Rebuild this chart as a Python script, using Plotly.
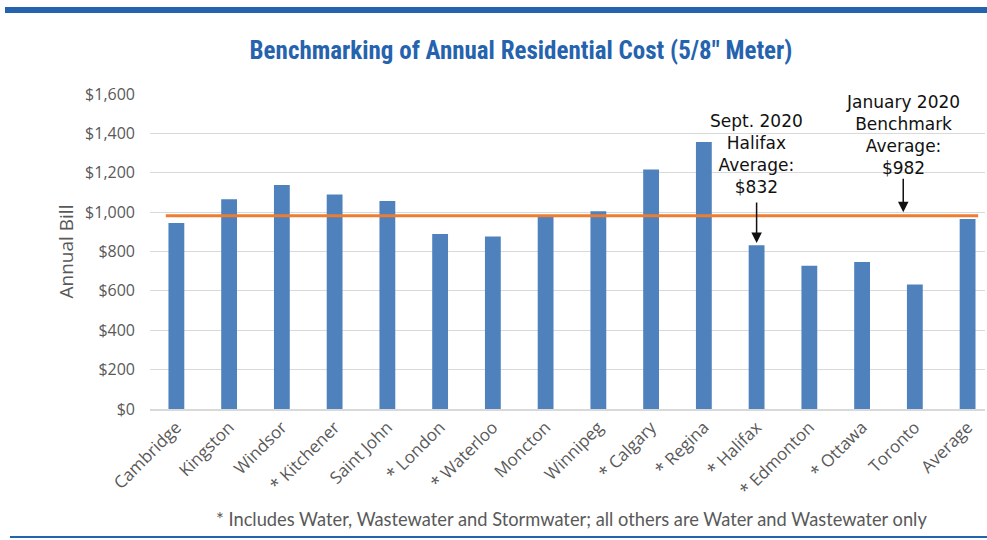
import plotly.graph_objects as go

categories = ["Cambridge", "Kingston", "Windsor", "* Kitchener", "Saint John", "* London",
              "* Waterloo", "Moncton", "Winnipeg", "* Calgary", "* Regina", "* Halifax",
              "* Edmonton", "* Ottawa", "Toronto", "Average"]
annual_bill = [945, 1065, 1138, 1090, 1056, 889, 876, 985, 1004, 1216, 1356, 832, 727, 747, 632, 965]
benchmark_avg = 982
halifax_avg = 832
y_ticks = [0, 200, 400, 600, 800, 1000, 1200, 1400, 1600]
y_tick_text = ["$0", "$200", "$400", "$600", "$800", "$1,000", "$1,200", "$1,400", "$1,600"]

BAR = "#4f81bd"
ORANGE = "#ed7d31"
BLUE = "#2563ae"
GRAY = "#595959"

# plot area in pixels: x 150..985, y 94..409
PL, PR, PT, PB = 150, 985, 94, 409
PW, PH = PR - PL, PB - PT


def px_x(px):
    return (px - PL) / PW


def px_y(py):
    return (PB - py) / PH


fig = go.Figure()
fig.add_trace(go.Bar(x=categories, y=annual_bill, marker_color=BAR, marker_line_width=0,
                     showlegend=False))

# benchmark line
fig.add_shape(type="line", xref="x", yref="y", x0=-0.2, x1=15.2,
              y0=benchmark_avg, y1=benchmark_avg, line=dict(color=ORANGE, width=3), layer="above")

ann_font = dict(family="DejaVu Sans, sans-serif", size=17, color="#111111")
fig.add_annotation(x=11, y=1065, xref="x", yref="y", showarrow=False, yanchor="bottom",
                   text="Sept. 2020<br>Halifax<br>Average:<br>$832", font=ann_font,
                   align="center")
fig.add_annotation(x=11, y=halifax_avg + 11, xref="x", yref="y", ax=0, ay=-42,
                   showarrow=True, arrowhead=2, arrowsize=1.4, arrowwidth=1.5,
                   arrowcolor="#111111", text="")
fig.add_annotation(x=13.78, y=1162, xref="x", yref="y", showarrow=False, yanchor="bottom",
                   text="January 2020<br>Benchmark<br>Average:<br>$982", font=ann_font,
                   align="center")
fig.add_annotation(x=13.78, y=1000, xref="x", yref="y", ax=0, ay=-35,
                   showarrow=True, arrowhead=2, arrowsize=1.4, arrowwidth=1.5,
                   arrowcolor="#111111", text="")

# footnote
fig.add_annotation(x=px_x(571), y=px_y(519), xref="paper", yref="paper",
                   showarrow=False, xanchor="center", yanchor="middle",
                   text="* Includes Water, Wastewater and Stormwater; all others are Water and Wastewater only",
                   font=dict(family="Lato, sans-serif", size=18.3, color=GRAY))

# decorative lines
fig.add_shape(type="rect", xref="paper", yref="paper", x0=px_x(5), x1=px_x(988),
              y0=px_y(13), y1=px_y(7), line_width=0, fillcolor=BLUE)
fig.add_shape(type="line", xref="paper", yref="paper", x0=px_x(10), x1=px_x(988),
              y0=px_y(537), y1=px_y(537), line=dict(color=BLUE, width=2))

fig.update_layout(
    width=987, height=540,
    margin=dict(l=PL, r=987 - PR, t=PT, b=540 - PB),
    paper_bgcolor="white", plot_bgcolor="white",
    bargap=0.7,
    title=dict(text="Benchmarking of Annual Residential Cost (5/8\" Meter)",
               x=521 / 987, xanchor="center", y=1 - 50 / 540, yanchor="middle",
               xref="container", yref="container", automargin=False,
               font=dict(family="Roboto Condensed, Roboto, sans-serif",
                         size=25, color=BLUE, weight="bold")),
    font=dict(family="Open Sans, sans-serif", color=GRAY),
)
fig.update_xaxes(range=[-0.5, 15.33], tickangle=-45, tickfont=dict(size=17, color=GRAY),
                 showline=True, linecolor="#d9d9d9", linewidth=1.5, ticks="",
                 showgrid=False, automargin=False)
fig.update_yaxes(range=[0, 1600], tickvals=y_ticks, ticktext=y_tick_text,
                 tickfont=dict(size=16, color=GRAY), showgrid=True, gridcolor="#d9d9d9",
                 gridwidth=1, zeroline=False, ticks="", ticklabelstandoff=14, automargin=False,
                 title=dict(text="Annual Bill", font=dict(size=19, color=GRAY), standoff=6))

fig.write_html("out.html", config={"displayModeBar": False},
               post_script="document.body.style.margin='0';")
